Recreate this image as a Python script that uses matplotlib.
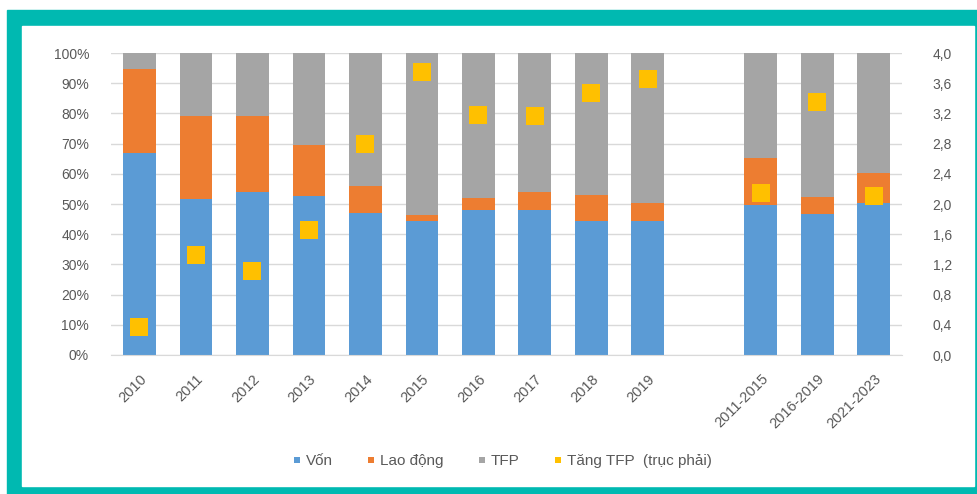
import matplotlib
matplotlib.use("Agg")
import matplotlib.pyplot as plt
import matplotlib.patches as mpatches
from matplotlib.ticker import FuncFormatter, MultipleLocator
from matplotlib.lines import Line2D

plt.rcParams['font.family'] = ['Liberation Sans', 'DejaVu Sans']

# Categories (empty string = spacer slot between annual and period bars)
categories = ["2010", "2011", "2012", "2013", "2014", "2015", "2016", "2017",
              "2018", "2019", "", "2011-2015", "2016-2019", "2021-2023"]

# Contribution shares (%); None for spacer slot
von = [67, 51.6, 54.1, 52.6, 46.9, 44.4, 48.0, 48.0, 44.4, 44.4, None, 49.7, 46.7, 50.2]
lao_dong = [27.6, 27.5, 25.0, 16.9, 9.1, 2.0, 3.9, 6.1, 8.6, 5.8, None, 15.4, 5.7, 10.2]
tfp_growth = [0.37, 1.32, 1.11, 1.66, 2.80, 3.75, 3.18, 3.17, 3.47, 3.65, None, 2.15, 3.35, 2.11]

C_VON = "#5B9BD5"
C_LD = "#ED7D31"
C_TFP = "#A5A5A5"
C_MK = "#FFC000"
TXT = "#595959"

W, H = 977, 494
fig = plt.figure(figsize=(W / 100, H / 100), dpi=100)
fig.patch.set_facecolor("white")

# Teal frame with white panel inside
fig.patches.append(mpatches.Rectangle((7 / W, 0), 1 - 7 / W, 1 - 10 / H,
                                      transform=fig.transFigure, color="#00B9B1", zorder=-2))
fig.patches.append(mpatches.Rectangle((22 / W, 8 / H), (974 - 22) / W, (486 - 26) / H,
                                      transform=fig.transFigure, color="white", zorder=-1))

left, right, top, bottom = 111.25, 902, 53, 355
ax = fig.add_axes([left / W, 1 - bottom / H, (right - left) / W, (bottom - top) / H])
ax.set_facecolor("none")

idx = [i for i, c in enumerate(categories) if c != ""]
v = [von[i] for i in idx]
l = [lao_dong[i] for i in idx]
t = [100 - von[i] - lao_dong[i] for i in idx]
bw = 0.58
ax.bar(idx, v, bw, color=C_VON, zorder=2)
ax.bar(idx, l, bw, bottom=v, color=C_LD, zorder=2)
ax.bar(idx, t, bw, bottom=[a + b for a, b in zip(v, l)], color=C_TFP, zorder=2)

ax.set_xlim(-0.5, len(categories) - 0.5)
ax.set_ylim(0, 100)
ax.yaxis.set_major_locator(MultipleLocator(10))
ax.yaxis.set_major_formatter(FuncFormatter(lambda x, p: f"{int(round(x))}%"))
ax.grid(axis="y", color="#D9D9D9", linewidth=1, zorder=0)
ax.set_axisbelow(True)
for s in ax.spines.values():
    s.set_visible(False)
ax.spines["bottom"].set_visible(True)
ax.spines["bottom"].set_color("#D9D9D9")
ax.tick_params(axis="both", length=0, colors=TXT, labelsize=10)
ax.tick_params(axis="y", pad=16)
ax.set_xticks(idx)
ax.set_xticklabels([categories[i] for i in idx], rotation=45, ha="right",
                   rotation_mode="anchor", fontsize=10.5, color=TXT)
ax.tick_params(axis="x", pad=12)

ax2 = ax.twinx()
ax2.set_ylim(0, 4.0)
ax2.yaxis.set_major_locator(MultipleLocator(0.4))
ax2.yaxis.set_major_formatter(FuncFormatter(lambda x, p: f"{x:.1f}".replace(".", ",")))
for s in ax2.spines.values():
    s.set_visible(False)
ax2.tick_params(axis="y", length=0, colors=TXT, labelsize=10, pad=22)
ax2.plot(idx, [tfp_growth[i] for i in idx], linestyle="none", marker="s",
         markersize=13, color=C_MK, markeredgewidth=0, zorder=5)

handles = [
    Line2D([], [], linestyle="none", marker="s", markersize=5, color=C_VON, markeredgewidth=0),
    Line2D([], [], linestyle="none", marker="s", markersize=5, color=C_LD, markeredgewidth=0),
    Line2D([], [], linestyle="none", marker="s", markersize=5, color=C_TFP, markeredgewidth=0),
    Line2D([], [], linestyle="none", marker="s", markersize=5, color=C_MK, markeredgewidth=0),
]
fig.legend(handles, ["Vốn", "Lao động", "TFP", "Tăng TFP  (trục phải)"],
           loc="center", bbox_to_anchor=(502 / W, 1 - 461 / H), ncol=4, frameon=False,
           fontsize=11, labelcolor=TXT, handletextpad=0.3, columnspacing=2.2,
           handlelength=0.6)

fig.savefig("out.png", dpi=100)
